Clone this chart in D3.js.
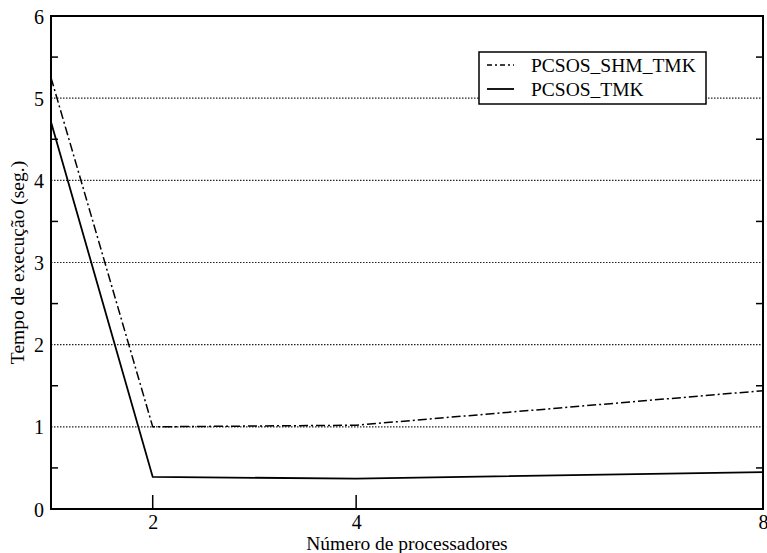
<!DOCTYPE html>
<html>
<head>
<meta charset="utf-8">
<script src="https://cdn.jsdelivr.net/npm/d3@7"></script>
<style>
  body { margin: 0; background: #fff; }
  svg text { font-family: "Liberation Serif", "DejaVu Serif", serif; fill: #000; }
</style>
</head>
<body>
<div id="chart"></div>
<script>
// Data
const processadores = [1, 2, 4, 8];
const shmTmk = [5.25, 1.0, 1.02, 1.44];   // PCSOS_SHM_TMK (dash-dot)
const tmk = [4.71, 0.39, 0.37, 0.45];     // PCSOS_TMK (solid)
const xTicks = [2, 4, 8];
const yTicks = [0, 1, 2, 3, 4, 5, 6];
const yMinor = [0.5, 1.5, 2.5, 3.5, 4.5, 5.5];
const gridValues = [1, 2, 3, 4, 5];
const seriesNames = ["PCSOS_SHM_TMK", "PCSOS_TMK"];

// chart dimensions
var width = 767, height = 553;
var margin = {top: 16, right: 4, bottom: 44, left: 51};
var serif = "'Liberation Serif', 'DejaVu Serif', serif";

const svg = d3.select('#chart')
  .append('svg')
    .attr('width', width)
    .attr('height', height);

var x = d3.scaleLinear()
  .domain([1, 8])
  .range([margin.left, width - margin.right]);

var y = d3.scaleLinear()
  .domain([0, 6])
  .range([height - margin.bottom, margin.top]);

// dotted gridlines
svg.append("g")
  .selectAll("line")
  .data(gridValues)
  .enter()
  .append("line")
  .attr("x1", x(1))
  .attr("x2", x(8))
  .attr("y1", function(d) { return y(d); })
  .attr("y2", function(d) { return y(d); })
  .attr("stroke", "#222")
  .attr("stroke-width", 1.2)
  .attr("stroke-dasharray", "1.5,1.5");

// Y axis (left) labels, ticks drawn separately
svg.append("g")
  .attr("transform", "translate(" + x(1) + ",0)")
  .attr("font-family", serif)
  .call(d3.axisLeft(y).tickValues(yTicks).tickSize(0).tickPadding(7).tickFormat(d3.format("d")))
  .call(g => g.select(".domain").remove())
  .selectAll("text")
  .style("font-size", "20px")
  .attr("dy", "0.35em");

// X axis labels
svg.append("g")
  .attr("transform", "translate(0," + y(0) + ")")
  .attr("font-family", serif)
  .call(d3.axisBottom(x).tickValues(xTicks).tickSize(0).tickPadding(6).tickFormat(d3.format("d")))
  .call(g => g.select(".domain").remove())
  .selectAll("text")
  .style("font-size", "20px");

// minor ticks on left and right
svg.append("g")
  .selectAll("line")
  .data(yMinor)
  .enter()
  .append("line")
  .attr("x1", x(1))
  .attr("x2", x(1) + 7)
  .attr("y1", function(d) { return y(d); })
  .attr("y2", function(d) { return y(d); })
  .attr("stroke", "#000")
  .attr("stroke-width", 1.5);

svg.append("g")
  .selectAll("line")
  .data(yMinor)
  .enter()
  .append("line")
  .attr("x1", x(8))
  .attr("x2", x(8) - 7)
  .attr("y1", function(d) { return y(d); })
  .attr("y2", function(d) { return y(d); })
  .attr("stroke", "#000")
  .attr("stroke-width", 1.5);

// x ticks pointing up from the bottom
svg.append("g")
  .selectAll("line")
  .data(xTicks)
  .enter()
  .append("line")
  .attr("x1", function(d) { return x(d); })
  .attr("x2", function(d) { return x(d); })
  .attr("y1", y(0))
  .attr("y2", y(0) - 14)
  .attr("stroke", "#000")
  .attr("stroke-width", 1.5);

// series lines
var line = d3.line()
  .x(function(d, i) { return x(processadores[i]); })
  .y(function(d) { return y(d); });

svg.append("path")
  .datum(shmTmk)
  .attr("fill", "none")
  .attr("stroke", "#000")
  .attr("stroke-width", 1.5)
  .attr("stroke-dasharray", "9,3,2,3")
  .attr("d", line);

svg.append("path")
  .datum(tmk)
  .attr("fill", "none")
  .attr("stroke", "#000")
  .attr("stroke-width", 1.8)
  .attr("d", line);

// plot frame
svg.append("rect")
  .attr("x", x(1))
  .attr("y", y(6))
  .attr("width", x(8) - x(1))
  .attr("height", y(0) - y(6))
  .attr("fill", "none")
  .attr("stroke", "#000")
  .attr("stroke-width", 2);

// Legend
var legend = svg.append("g");
legend.append("rect")
  .attr("x", 479)
  .attr("y", 52)
  .attr("width", 227)
  .attr("height", 52)
  .attr("fill", "#fff")
  .attr("stroke", "#000")
  .attr("stroke-width", 1.5);

var dashes = ["5,3,2,3", null];
seriesNames.forEach(function(name, i) {
  var ly = 65 + i * 24;
  legend.append("line")
    .attr("x1", 487)
    .attr("x2", 514)
    .attr("y1", ly)
    .attr("y2", ly)
    .attr("stroke", "#000")
    .attr("stroke-width", i == 0 ? 1.3 : 1.8)
    .attr("stroke-dasharray", dashes[i]);
  legend.append("text")
    .attr("x", 531)
    .attr("y", ly + 7)
    .attr("font-family", serif)
    .style("font-size", "19.5px")
    .text(name);
});

// axis titles
svg.append("text")
  .attr("x", (x(1) + x(8)) / 2)
  .attr("y", 550)
  .attr("text-anchor", "middle")
  .attr("font-family", serif)
  .style("font-size", "19.5px")
  .text("Número de processadores");

svg.append("text")
  .attr("transform", "translate(24," + (y(0) + y(6)) / 2 + ") rotate(-90)")
  .attr("text-anchor", "middle")
  .attr("font-family", serif)
  .style("font-size", "19.5px")
  .text("Tempo de execução (seg.)");
</script>
</body>
</html>
